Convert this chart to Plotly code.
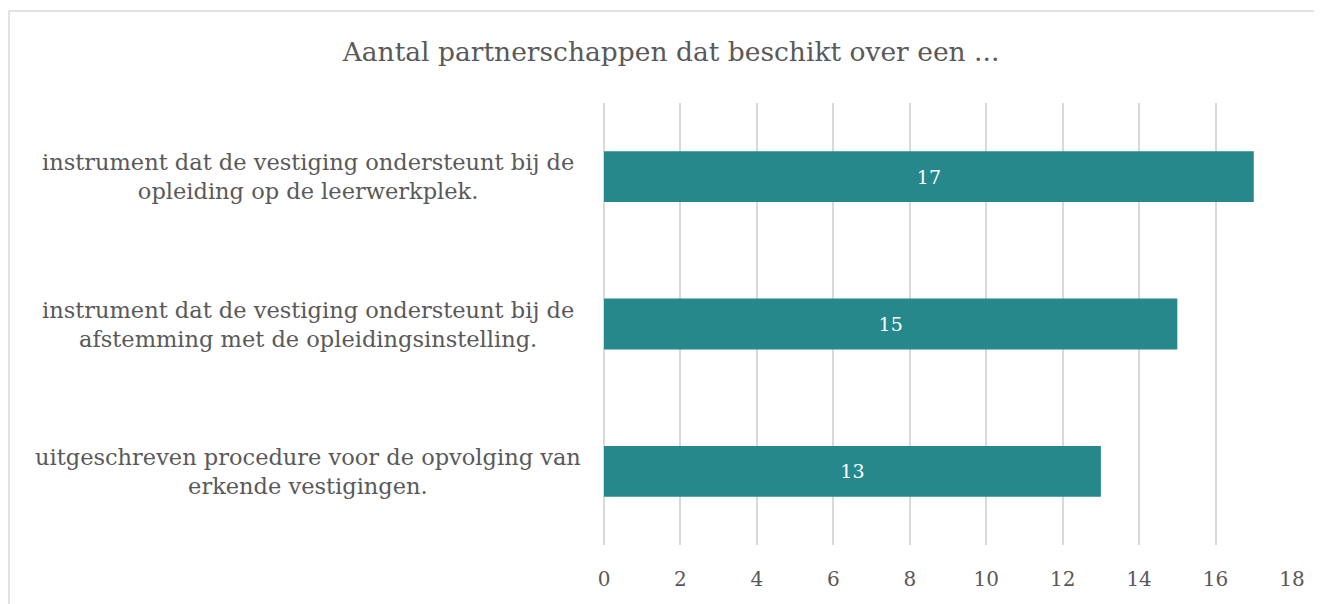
import plotly.graph_objects as go

categories = [
    "instrument dat de vestiging ondersteunt bij de<br>opleiding op de leerwerkplek.",
    "instrument dat de vestiging ondersteunt bij de<br>afstemming met de opleidingsinstelling.",
    "uitgeschreven procedure voor de opvolging van<br>erkende vestigingen.",
]
values = [17, 15, 13]
tick_vals = [0, 2, 4, 6, 8, 10, 12, 14, 16, 18]

# page body adds an 8px offset; target pixel coords are corrected by OFF
OFF = 8
W, H = 1322 - OFF, 604 - OFF
L, T = 604 - OFF, 103 - OFF
R = W - (1292 - OFF)
B = H - (545 - OFF)
pw, ph = W - L - R, H - T - B

FONT = "DejaVu Serif"
GREY = "#595959"
BAR = "#26888B"

fig = go.Figure()
fig.add_trace(go.Bar(
    y=categories, x=values, orientation="h",
    marker=dict(color=BAR, line=dict(width=0)),
    width=0.345,
    text=[str(v) for v in values], textposition="inside",
    insidetextanchor="middle",
    textfont=dict(color="white", size=19, family=FONT),
    hoverinfo="skip",
))

def px2paper_x(px):
    return (px - OFF - L) / pw

def px2paper_y(py):
    return 1 - (py - OFF - T) / ph

annotations = []
for c in categories:
    annotations.append(dict(
        x=px2paper_x(308), xref="paper", y=c, yref="y",
        text=c, showarrow=False, align="center", xanchor="center",
        font=dict(family=FONT, size=22.5, color=GREY),
    ))

shapes = [
    dict(type="line", xref="paper", yref="paper",
         x0=px2paper_x(9), x1=px2paper_x(1400), y0=px2paper_y(11), y1=px2paper_y(11),
         line=dict(color="#d9d9d9", width=1.5)),
    dict(type="line", xref="paper", yref="paper",
         x0=px2paper_x(9), x1=px2paper_x(9), y0=px2paper_y(11), y1=px2paper_y(700),
         line=dict(color="#d9d9d9", width=1.5)),
]

fig.update_layout(
    width=W, height=H,
    margin=dict(l=L, r=R, t=T, b=B, autoexpand=False),
    paper_bgcolor="white", plot_bgcolor="white",
    showlegend=False,
    title=dict(text="Aantal partnerschappen dat beschikt over een ...",
               x=(671 - OFF) / W, xref="container", xanchor="center",
               y=1 - (52 - OFF) / H, yref="container", yanchor="middle",
               font=dict(family=FONT, size=26.5, color=GREY)),
    xaxis=dict(range=[0, 18], tickvals=tick_vals, showgrid=True,
               gridcolor="#d9d9d9", gridwidth=1.5,
               zeroline=True, zerolinecolor="#d9d9d9", zerolinewidth=1.5,
               showline=False, ticks="", ticklabelstandoff=20,
               tickfont=dict(family=FONT, size=20, color=GREY)),
    yaxis=dict(autorange="reversed", showticklabels=False, showgrid=False,
               zeroline=False, showline=False, ticks=""),
    annotations=annotations,
    shapes=shapes,
)

fig.write_html("out.html")
